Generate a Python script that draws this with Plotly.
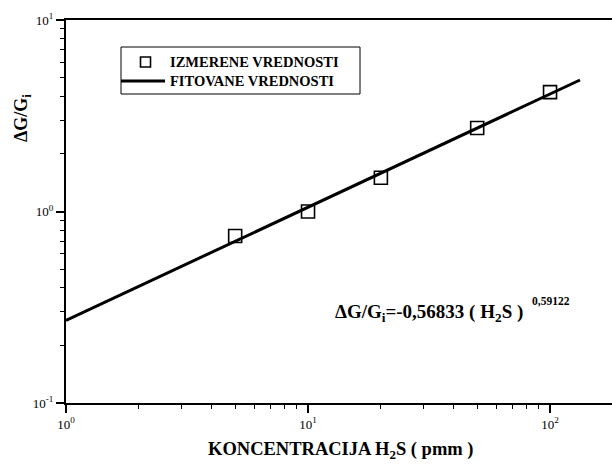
import plotly.graph_objects as go

# measured data
conc = [5, 10, 20, 50, 100]
dg = [0.745, 1.0, 1.50, 2.73, 4.2]

# fitted line endpoints (as drawn)
fit_x = [1, 133]
fit_y = [0.27, 4.86]

x_tickvals = [1, 10, 100]
x_ticktext = ["10<sup>0</sup>", "10<sup>1</sup>", "10<sup>2</sup>"]
y_tickvals = [0.1, 1, 10]
y_ticktext = ["10<sup>-1</sup>", "10<sup>0</sup>", "10<sup>1</sup>"]

legend_names = ["IZMERENE VREDNOSTI", "FITOVANE VREDNOSTI"]

minor_x = [m * d for d in (1, 10, 100) for m in range(2, 10) if m * d <= 180]
minor_y = [m * d for d in (0.1, 1) for m in range(2, 10)]

serif = "Liberation Serif"

# plot area in pixels: left 66, right 612, top 20, bottom 403
L, R, T, B = 66, 612, 20, 403
def px(x):
    return (x - L) / (R - L)
def py(y):
    return (B - y) / (B - T)

fig = go.Figure()
fig.add_trace(go.Scatter(
    x=conc, y=dg, mode="markers", name=legend_names[0], showlegend=False,
    marker=dict(symbol="square-open", size=13, color="black", line=dict(width=1.6, color="black")),
))
fig.add_trace(go.Scatter(
    x=fit_x, y=fit_y, mode="lines", name=legend_names[1], showlegend=False,
    line=dict(color="black", width=3),
))

shapes = [
    # legend box
    dict(type="rect", xref="paper", yref="paper", x0=px(121), x1=px(360), y0=py(94), y1=py(47),
         line=dict(color="black", width=1), fillcolor="white", layer="above"),
    # legend line sample
    dict(type="line", xref="paper", yref="paper", x0=px(121), x1=px(165), y0=py(81), y1=py(81),
         line=dict(color="black", width=3), layer="above"),
    # legend square sample
    dict(type="rect", xref="paper", yref="paper", x0=px(140.5), x1=px(150.5), y0=py(67), y1=py(57),
         line=dict(color="black", width=1.6), fillcolor="rgba(0,0,0,0)", layer="above"),
]

annotations = [
    dict(text="<b>%s</b>" % legend_names[0], xref="paper", yref="paper", x=px(168), y=py(62),
         xanchor="left", yanchor="middle", showarrow=False,
         font=dict(family=serif, size=14.5, color="black")),
    dict(text="<b>%s</b>" % legend_names[1], xref="paper", yref="paper", x=px(168), y=py(81),
         xanchor="left", yanchor="middle", showarrow=False,
         font=dict(family=serif, size=14.5, color="black")),
    dict(text="<b>KONCENTRACIJA H<sub>2</sub>S ( pmm )</b>", xref="paper", yref="paper",
         x=px(341), y=py(450), xanchor="center", yanchor="middle", showarrow=False,
         font=dict(family=serif, size=18.5, color="black")),
    dict(text="<b>ΔG/G<sub>i</sub></b>", xref="paper", yref="paper",
         x=px(23), y=py(118), xanchor="center", yanchor="middle", textangle=-90, showarrow=False,
         font=dict(family=serif, size=18, color="black")),
    dict(text="<b>ΔG/G<sub>i</sub>=-0,56833 ( H<sub>2</sub>S )</b>", xref="paper", yref="paper",
         x=px(333), y=py(313), xanchor="left", yanchor="middle", showarrow=False,
         font=dict(family=serif, size=19, color="black")),
    dict(text="<b>0,59122</b>", xref="paper", yref="paper",
         x=px(530), y=py(301), xanchor="left", yanchor="middle", showarrow=False,
         font=dict(family=serif, size=11.5, color="black")),
]

fig.update_layout(
    width=612, height=469,
    margin=dict(l=L, r=612 - R, t=T, b=469 - B),
    plot_bgcolor="white", paper_bgcolor="white",
    font=dict(family=serif, color="black", size=12),
    showlegend=False,
    xaxis=dict(
        type="log", range=[0, 2.256],
        tickvals=x_tickvals, ticktext=x_ticktext,
        ticks="outside", ticklen=8, tickwidth=1.5, tickcolor="black",
        showline=True, linecolor="black", linewidth=2, mirror=True,
        showgrid=False, zeroline=False,
        tickfont=dict(family=serif, size=13, color="black"),
        minor=dict(tickvals=minor_x, ticks="outside", ticklen=4, tickcolor="black", tickwidth=1, showgrid=False),
    ),
    yaxis=dict(
        type="log", range=[-1, 1],
        tickvals=y_tickvals, ticktext=y_ticktext,
        ticks="outside", ticklen=8, tickwidth=1.5, tickcolor="black",
        showline=True, linecolor="black", linewidth=2,
        showgrid=False, zeroline=False,
        tickfont=dict(family=serif, size=13, color="black"),
        minor=dict(tickvals=minor_y, ticks="outside", ticklen=4, tickcolor="black", tickwidth=1, showgrid=False),
    ),
    shapes=shapes,
    annotations=annotations,
)

fig.write_html("out.html")
